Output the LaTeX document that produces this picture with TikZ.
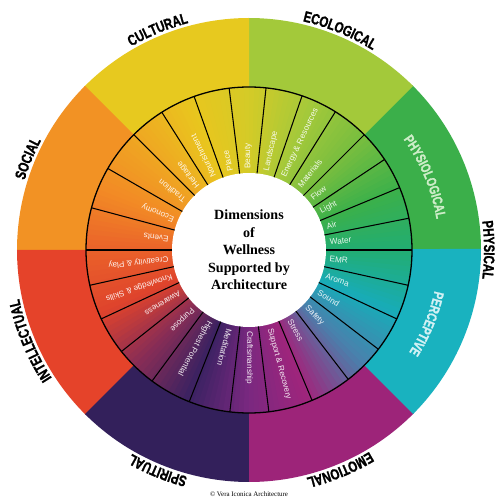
\documentclass[tikz,border=0pt]{standalone}
\usepackage{fontspec}
\setmainfont{Liberation Sans}
\newfontfamily\labfont[FakeStretch=0.75, FakeBold=1.2, UprightFont={* Bold}]{Liberation Sans}
\newfontfamily\serifb{Liberation Serif}
\usetikzlibrary{decorations.text}
% outer sector colours
\definecolor{cPhys}{HTML}{3BAF4A}
\definecolor{cEco}{HTML}{A3C93A}
\definecolor{cCult}{HTML}{E7C91F}
\definecolor{cSoc}{HTML}{F29224}
\definecolor{cInt}{HTML}{E5432A}
\definecolor{cSpi}{HTML}{33205B}
\definecolor{cEmo}{HTML}{9D2479}
\definecolor{cPerc}{HTML}{19B2BF}
% ring gradient anchors
\definecolor{g0}{HTML}{22AD72}
\definecolor{g1}{HTML}{3BB04A}
\definecolor{g2}{HTML}{78BE3F}
\definecolor{g3}{HTML}{A6C93A}
\definecolor{g4}{HTML}{D4CB27}
\definecolor{g5}{HTML}{E9C61E}
\definecolor{g6}{HTML}{EFA722}
\definecolor{g7}{HTML}{F28A25}
\definecolor{g8}{HTML}{EA622A}
\definecolor{g9}{HTML}{DF432C}
\definecolor{g10}{HTML}{8A2D55}
\definecolor{g11}{HTML}{3A2262}
\definecolor{g12}{HTML}{7A2880}
\definecolor{g13}{HTML}{A0257C}
\definecolor{g14}{HTML}{4A80AC}
\definecolor{g15}{HTML}{18ACB8}
\definecolor{physT}{HTML}{CDEDC8}
\definecolor{percT}{HTML}{D2F1F4}
\newcommand\outerfmt{\labfont\fontsize{13pt}{14pt}\selectfont}
\newcommand\midfmt{\labfont\fontsize{12pt}{13pt}\selectfont}
\tikzset{
  segline/.style={line width=0.9pt, black},
  seglab/.style={font=\fontsize{7pt}{8pt}\selectfont, text=white, text opacity=0.9, inner sep=0pt},
  outerlab/.style={decorate, decoration={text along path, text align=center, text={|\outerfmt|#1}}},
  physlab/.style={decorate, decoration={text along path, text align=center, text color=physT, text={|\midfmt|#1}}},
  perclab/.style={decorate, decoration={text along path, text align=center, text color=percT, text={|\midfmt|#1}}},
}
\begin{document}
\begin{tikzpicture}[x=0.3mm,y=0.3mm]
\useasboundingbox (-249,-250) rectangle (251,250);
% outer sectors
\foreach \st/\col in {0/cPhys,45/cEco,90/cCult,135/cSoc,180/cInt,225/cSpi,270/cEmo,315/cPerc}
  \fill[\col] (0,0) -- (\st:232) arc[start angle=\st, end angle=\st+45.3, radius=232] -- cycle;
% inner ring gradient
\foreach \ua/\ub/\ucA/\ucB in {0/22/g0/g1, 22/45/g1/g2, 45/68/g2/g3, 68/90/g3/g4, 90/112/g4/g5, 112/135/g5/g6, 135/158/g6/g7, 158/180/g7/g8, 180/203/g8/g9, 203/225/g9/g10, 225/248/g10/g11, 248/270/g11/g12, 270/292/g12/g13, 292/315/g13/g14, 315/337/g14/g15, 337/360/g15/g0}{
  \foreach \k in {0,...,11}{
    \pgfmathsetmacro\sA{\ua+(\ub-\ua)*\k/12}
    \pgfmathsetmacro\eA{\ua+(\ub-\ua)*(\k+1)/12+0.5}
    \pgfmathtruncatemacro\pc{100-100*(\k+0.5)/12}
    \fill[fill=\ucA!\pc!\ucB] (\sA:76) -- (\sA:163) arc[start angle=\sA, end angle=\eA, radius=163] -- (\eA:76) -- cycle;
  }
}
\fill[white] (0,0) circle[radius=77];
\draw[line width=1.1pt] (0,0) circle[radius=163];
% segments and labels
\foreach \ua/\ub/\txt [count=\i] in {0/11.25/Water, 11.25/22.5/Air, 22.5/33.75/Light, 33.75/45/Flow, 45/58/Materials, 58/71/Energy \& Resources, 71/84/Landscape, 84/97/Beauty, 97/109.67/Place, 109.67/122.33/Nourishment, 122.33/135/Heritage, 135/150/Tradition, 150/165/Economy, 165/180/Events, 180/192.5/Creativity \& Play, 192.5/205/Knowledge \& Skills, 205/218.5/Awareness, 218.5/233.5/Purpose, 233.5/248.5/Highest Potential, 248.5/263.25/Meditation, 263.25/277/Craftsmanship, 277/292.75/Support \& Recovery, 292.75/307.5/Stress, 307.5/322.5/Safety, 322.5/335/Sound, 335/347.5/Aroma, 347.5/360/EMR}{
  \draw[segline] (\ua:77) -- (\ua:163);
  \pgfmathsetmacro\md{(\ua+\ub)/2}
  \node[seglab, rotate=\md, anchor=west] (l\i) at (\md:81) {\txt};
}
% centre title
\node[align=center, font=\serifb\bfseries\fontsize{12pt}{14.9pt}\selectfont] (title) at (0,0) {Dimensions\\of\\Wellness\\Supported by\\Architecture};
% outer labels
\path[outerlab=CULTURAL] (142.5:235) arc[start angle=142.5, end angle=82.5, radius=235];
\path[outerlab=ECOLOGICAL] (97.5:235) arc[start angle=97.5, end angle=37.5, radius=235];
\path[outerlab=PHYSICAL] (30:235) arc[start angle=30, end angle=-30, radius=235];
\path[outerlab=SOCIAL] (187.5:235) arc[start angle=187.5, end angle=127.5, radius=235];
\path[outerlab=INTELLECTUAL] (232.5:235) arc[start angle=232.5, end angle=172.5, radius=235];
\path[outerlab=SPIRITUAL] (277.5:235) arc[start angle=277.5, end angle=217.5, radius=235];
\path[outerlab=EMOTIONAL] (322.5:235) arc[start angle=322.5, end angle=262.5, radius=235];
\path[physlab=PHYSIOLOGICAL] (62.5:190) arc[start angle=62.5, end angle=-17.5, radius=190];
\path[perclab=PERCEPTIVE] (17.5:190) arc[start angle=17.5, end angle=-62.5, radius=190];
% credit
\node[font=\serifb\fontsize{5.9pt}{7pt}\selectfont] (credit) at (0,-244) {© Vera Iconica Architecture};
\end{tikzpicture}
\end{document}
